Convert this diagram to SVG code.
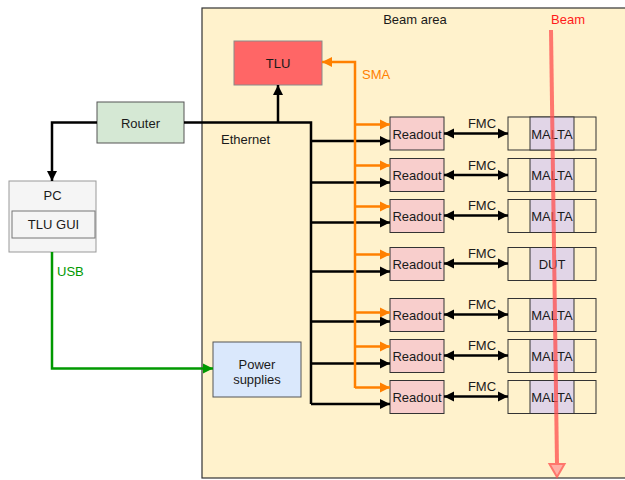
<svg xmlns="http://www.w3.org/2000/svg" width="625" height="480" viewBox="0 0 625 480">
  <style>
    text { font-family: "Liberation Sans", Arial, sans-serif; font-size: 13px; fill: #1a1a1a; }
    .c { text-anchor: middle; dominant-baseline: central; }
    .readout { fill: #f8cecc; stroke: #333333; stroke-width: 1; }
    .slot { fill: #fff2cc; stroke: #333333; stroke-width: 1; }
    .chip { fill: #e1d5e7; stroke: #333333; stroke-width: 1; }
    .eth { fill: none; stroke: #000000; stroke-width: 2.5; }
    .sma { fill: none; stroke: #ff8000; stroke-width: 2.5; }
    .usb { fill: none; stroke: #009900; stroke-width: 2.5; }
  </style>
  <defs>
    <marker id="arrBlack" markerUnits="userSpaceOnUse" markerWidth="12" markerHeight="12" viewBox="0 0 12 12" refX="11" refY="6" orient="auto-start-reverse">
      <path d="M1,1 L11,6 L1,11 Z" fill="#000000"/>
    </marker>
    <marker id="arrOrange" markerUnits="userSpaceOnUse" markerWidth="12" markerHeight="12" viewBox="0 0 12 12" refX="11" refY="6" orient="auto">
      <path d="M1,1 L11,6 L1,11 Z" fill="#ff8000"/>
    </marker>
    <marker id="arrGreen" markerUnits="userSpaceOnUse" markerWidth="12" markerHeight="12" viewBox="0 0 12 12" refX="11" refY="6" orient="auto">
      <path d="M1,1 L11,6 L1,11 Z" fill="#009900"/>
    </marker>
  </defs>

  <!-- beam area -->
  <g id="beam-area">
    <rect x="202" y="8" width="440" height="470" fill="#fff2cc" stroke="#333333" stroke-width="1.2"/>
    <text class="c" x="415" y="19">Beam area</text>
  </g>

  <g id="tlu">
    <rect x="234" y="41" width="88" height="44" fill="#ff6666" stroke="#8a8a8a" stroke-width="1"/>
    <text class="c" x="278" y="63">TLU</text>
  </g>

  <g id="router">
    <rect x="97" y="102" width="87" height="41" fill="#d5e8d4" stroke="#555555" stroke-width="1"/>
    <text class="c" x="140.5" y="123">Router</text>
  </g>

  <g id="pc">
    <rect x="9" y="181" width="87" height="71" fill="#f5f5f5" stroke="#999999" stroke-width="1"/>
    <text class="c" x="52.5" y="195">PC</text>
    <rect x="12" y="211" width="83" height="27" fill="#f5f5f5" stroke="#777777" stroke-width="1"/>
    <text class="c" x="53.5" y="224.5">TLU GUI</text>
  </g>

  <g id="power-supplies">
    <rect x="213" y="342" width="88" height="55" fill="#dae8fc" stroke="#555555" stroke-width="1"/>
    <text class="c" x="257" y="364">Power</text>
    <text class="c" x="257" y="379">supplies</text>
  </g>

  <!-- readout boards -->
  <g id="readout-1"><rect class="readout" x="390" y="117" width="54" height="33"/><text class="c" x="417" y="134">Readout</text></g>
  <g id="readout-2"><rect class="readout" x="390" y="158.5" width="54" height="33"/><text class="c" x="417" y="175.5">Readout</text></g>
  <g id="readout-3"><rect class="readout" x="390" y="199.5" width="54" height="33"/><text class="c" x="417" y="216.5">Readout</text></g>
  <g id="readout-4"><rect class="readout" x="390" y="247.5" width="54" height="33"/><text class="c" x="417" y="264.5">Readout</text></g>
  <g id="readout-5"><rect class="readout" x="390" y="298.5" width="54" height="33"/><text class="c" x="417" y="315.5">Readout</text></g>
  <g id="readout-6"><rect class="readout" x="390" y="339.5" width="54" height="33"/><text class="c" x="417" y="356.5">Readout</text></g>
  <g id="readout-7"><rect class="readout" x="390" y="380.5" width="54" height="33"/><text class="c" x="417" y="397.5">Readout</text></g>

  <!-- sensor planes -->
  <g id="plane-1"><rect class="slot" x="508" y="117" width="88" height="33"/><rect class="chip" x="530" y="117" width="44" height="33"/><text class="c" x="552" y="134">MALTA</text></g>
  <g id="plane-2"><rect class="slot" x="508" y="158.5" width="88" height="33"/><rect class="chip" x="530" y="158.5" width="44" height="33"/><text class="c" x="552" y="175.5">MALTA</text></g>
  <g id="plane-3"><rect class="slot" x="508" y="199.5" width="88" height="33"/><rect class="chip" x="530" y="199.5" width="44" height="33"/><text class="c" x="552" y="216.5">MALTA</text></g>
  <g id="dut"><rect class="slot" x="508" y="247.5" width="88" height="33"/><rect class="chip" x="530" y="247.5" width="44" height="33"/><text class="c" x="552" y="264.5">DUT</text></g>
  <g id="plane-5"><rect class="slot" x="508" y="298.5" width="88" height="33"/><rect class="chip" x="530" y="298.5" width="44" height="33"/><text class="c" x="552" y="315.5">MALTA</text></g>
  <g id="plane-6"><rect class="slot" x="508" y="339.5" width="88" height="33"/><rect class="chip" x="530" y="339.5" width="44" height="33"/><text class="c" x="552" y="356.5">MALTA</text></g>
  <g id="plane-7"><rect class="slot" x="508" y="380.5" width="88" height="33"/><rect class="chip" x="530" y="380.5" width="44" height="33"/><text class="c" x="552" y="397.5">MALTA</text></g>

  <g id="connectors">
    <!-- ethernet -->
    <path class="eth" d="M97,122.5 H52 V181" marker-end="url(#arrBlack)"/>
    <path class="eth" d="M184,122.5 H311 V404"/>
    <path class="eth" d="M278,122.5 V85" marker-end="url(#arrBlack)"/>
    <path class="eth" d="M311,141 H390" marker-end="url(#arrBlack)"/>
    <path class="eth" d="M311,182.5 H390" marker-end="url(#arrBlack)"/>
    <path class="eth" d="M311,222.5 H390" marker-end="url(#arrBlack)"/>
    <path class="eth" d="M311,271.5 H390" marker-end="url(#arrBlack)"/>
    <path class="eth" d="M311,321.5 H390" marker-end="url(#arrBlack)"/>
    <path class="eth" d="M311,363.5 H390" marker-end="url(#arrBlack)"/>
    <path class="eth" d="M311,404 H390" marker-end="url(#arrBlack)"/>
    <text x="221" y="144">Ethernet</text>

    <!-- trigger lines -->
    <path class="sma" d="M355,388 V62 H322" marker-end="url(#arrOrange)"/>
    <path class="sma" d="M355,124.5 H390" marker-end="url(#arrOrange)"/>
    <path class="sma" d="M355,165.5 H390" marker-end="url(#arrOrange)"/>
    <path class="sma" d="M355,206.5 H390" marker-end="url(#arrOrange)"/>
    <path class="sma" d="M355,254.5 H390" marker-end="url(#arrOrange)"/>
    <path class="sma" d="M355,312.5 H390" marker-end="url(#arrOrange)"/>
    <path class="sma" d="M355,346.5 H390" marker-end="url(#arrOrange)"/>
    <path class="sma" d="M355,387.5 H390" marker-end="url(#arrOrange)"/>
    <text x="362" y="78.5" style="fill:#ff8000">SMA</text>

    <!-- FMC links -->
    <path class="eth" d="M444,133.5 H508" marker-start="url(#arrBlack)" marker-end="url(#arrBlack)"/>
    <path class="eth" d="M444,175 H508" marker-start="url(#arrBlack)" marker-end="url(#arrBlack)"/>
    <path class="eth" d="M444,215.5 H508" marker-start="url(#arrBlack)" marker-end="url(#arrBlack)"/>
    <path class="eth" d="M444,263.5 H508" marker-start="url(#arrBlack)" marker-end="url(#arrBlack)"/>
    <path class="eth" d="M444,314.5 H508" marker-start="url(#arrBlack)" marker-end="url(#arrBlack)"/>
    <path class="eth" d="M444,355.5 H508" marker-start="url(#arrBlack)" marker-end="url(#arrBlack)"/>
    <path class="eth" d="M444,396.5 H508" marker-start="url(#arrBlack)" marker-end="url(#arrBlack)"/>
    <text class="c" x="482" y="123.5">FMC</text>
    <text class="c" x="482" y="165">FMC</text>
    <text class="c" x="482" y="205.5">FMC</text>
    <text class="c" x="482" y="253.5">FMC</text>
    <text class="c" x="482" y="304.5">FMC</text>
    <text class="c" x="482" y="345.5">FMC</text>
    <text class="c" x="482" y="386.5">FMC</text>

    <!-- USB -->
    <path class="usb" d="M52,252 V368.5 H213" marker-end="url(#arrGreen)"/>
    <text x="57" y="276" style="fill:#009900">USB</text>

    <!-- beam -->
    <g opacity="0.75">
      <path d="M551,30 L557,464" fill="none" stroke="#ff4d4d" stroke-width="4"/>
      <path d="M549.5,464 L564.5,464 L557,477 Z" fill="#ff9999" stroke="#ff4d4d" stroke-width="2"/>
    </g>
    <text class="c" x="568" y="19" style="fill:#ff1a1a">Beam</text>
  </g>
</svg>
